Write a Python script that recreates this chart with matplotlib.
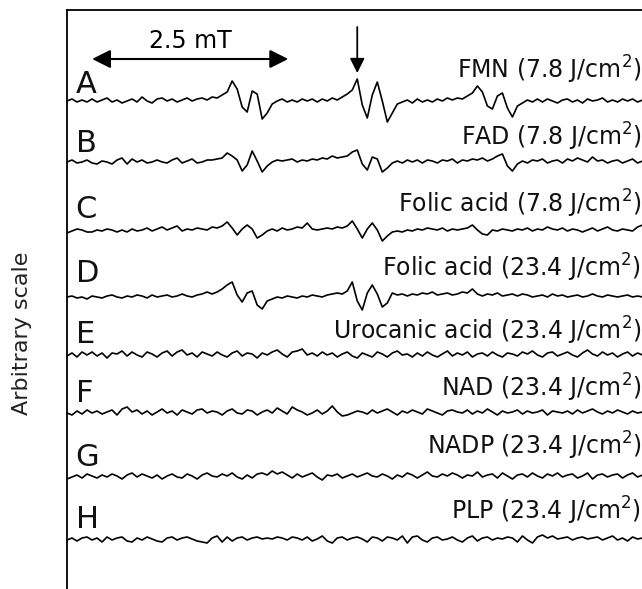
import numpy as np
import matplotlib.pyplot as plt

# EPR traces, relative amplitude (arbitrary units), sampled every 0.0638 mT
fmn_78 = [0, 2, -1, 1, -1, 2, -1, 1, 3, -1,
          1, -2, 0, 2, -1, 4, 0, -2, 2, 3,
          0, 2, -1, 1, 3, 0, 2, 3, 1, 4,
          3, 6, 9, 20, 12, -6, -11, 10, 7, -18,
          -12, -3, 0, 2, -1, 1, -1, 2, 0, 2,
          -1, 2, 0, 3, 1, 4, 7, 11, 22, -4,
          -17, 6, 19, 0, -21, -12, -3, -1, 1, -2,
          2, -1, 1, -1, 2, 0, 3, 1, 3, 2,
          5, 8, 15, 9, -5, -8, 5, 8, -7, -16,
          -5, -2, 1, -1, 2, -1, 2, 0, -2, 1,
          2, -1, 1, -2, 2, 0, 1, 3, -1, 1,
          -1, 2, 0, 2, -1, 1]
fad_78 = [0, 2, -1, 0, 2, -1, -2, 1, 0, -2,
          2, 4, -2, 3, 0, 2, -1, 0, 2, 0,
          -1, 2, 4, -1, 1, 3, -1, 0, 2, 2,
          3, 4, 9, 6, 2, -9, -3, 11, 1, -10,
          -4, 0, 2, 1, 2, 3, 0, 2, 1, 3,
          2, 4, 3, 6, 4, 5, 6, 10, 12, -2,
          -8, 5, 3, -10, -6, -1, 1, -1, 2, 0,
          2, -1, 2, 1, -1, 2, 1, 3, -1, 2,
          1, 3, 2, 4, 1, 3, 6, 8, -4, -9,
          -2, 1, -1, 2, 1, 3, -1, 1, 2, -1,
          3, 1, 4, 2, 0, 5, 1, 2, -1, 1,
          2, -1, 1, 3, -1, 1]
folic_78 = [-2, 0, 2, 1, -1, -1, 1, 0, 2, 1,
            -1, 1, -1, 2, 0, 1, 3, 0, 2, 4,
            1, 3, 5, 0, 2, 1, 3, 2, 1, 4,
            3, 5, 9, 3, -4, 2, 6, 2, -7, -4,
            0, 2, 0, 3, 1, 2, 4, 3, 8, 2,
            1, 2, 3, 2, 4, 3, 5, 10, 2, -7,
            2, 8, 1, -10, -5, -1, 0, -1, 1, 0,
            2, 1, 3, 2, 1, 3, 0, 2, 1, 2,
            3, 6, 1, -3, -4, 1, 0, 2, 1, 0,
            2, 1, 3, 0, 2, 1, 4, 2, 1, 3,
            0, 2, 1, -1, 1, 3, 0, 2, 4, 1,
            0, 2, 1, 0, 4, 6]
folic_234 = [0, 1, -1, 0, -2, 1, 0, -1, 1, 2,
             0, -1, 1, 0, 2, 1, -1, 2, 0, 1,
             2, 0, 1, 3, 1, 0, 2, 3, 5, 3,
             5, 8, 12, 15, 2, -5, 4, 6, -8, -12,
             -4, -2, 0, -1, 1, 0, -1, 1, 0, 2,
             1, 0, 2, 3, 4, 3, 6, 15, -4, -13,
             4, 12, 3, -10, -6, 4, 2, 3, 1, 3,
             2, 4, 3, 5, 2, 3, 4, 2, 3, 5,
             4, 8, 3, 1, 3, 2, 4, 1, 2, 3,
             1, 3, 2, 0, 1, 2, 0, 3, 1, 2,
             0, 1, 2, 0, 1, 3, 1, 0, 2, 1,
             0, 1, 2, 0, 1, 0]
urocanic_234 = [-1, 2, -2, 3, 0, 3, -1, 2, -3, 2,
                1, 4, -1, 3, 0, -2, 3, 1, -2, 2,
                4, -1, 3, 5, 0, 2, -2, 3, 1, -1,
                3, 0, -2, 2, 4, -1, 2, 1, -3, 2,
                0, 3, 5, 1, -2, 3, 4, 6, 0, 2,
                -1, 3, 0, 2, -2, 1, 3, -1, -3, 2,
                0, -2, 3, 1, -2, 2, 4, 0, 1, -2,
                2, -1, 3, 0, -2, 1, 4, -1, 2, 0,
                3, -2, 1, 2, -1, 3, 0, -2, 2, 1,
                -1, 3, 1, 4, 0, -2, 2, 3, -1, 1,
                3, 0, -2, 2, 5, 1, -1, 3, 0, 2,
                -2, 1, 3, -1, 2, 0]
nad_234 = [0, -2, 2, -1, 3, 0, 2, -1, 1, 3,
           -2, 4, 6, 1, 3, -1, 2, -2, 1, 4,
           0, 2, -2, 3, 1, -1, 3, 4, 0, 2,
           1, -2, 2, 4, 0, -1, 3, 2, -2, 1,
           3, 0, 5, 2, -1, 6, 3, 1, -2, 0,
           3, -1, 2, 7, 1, -3, -2, 0, 2, 1,
           -1, 3, 0, 2, 4, 1, -2, 2, 0, 3,
           1, -1, 4, 2, 0, -2, 2, 3, 1, 0,
           3, -1, 2, 0, 4, 1, -2, 2, 0, 1,
           3, -1, 2, 0, 1, 3, -2, 2, 1, 0,
           2, -1, 3, 0, 2, 4, 1, -1, 2, 0,
           3, 1, -1, 2, 0, 1]
nadp_234 = [-2, 0, 2, -1, 3, 1, -1, 2, 0, 3,
            1, -2, 2, 4, 0, 3, 1, -1, 2, -2,
            1, 3, 0, -1, 3, 1, -2, 2, 4, 1,
            0, 3, 1, 4, 0, -2, 2, -1, 3, 4,
            2, 6, 3, 5, 2, -1, 3, 0, 2, 4,
            0, -3, 2, 1, 3, -1, 1, 3, 0, 2,
            4, 1, 0, 3, 1, -2, 2, 0, 4, 2,
            -1, 2, 5, 1, 0, 3, 1, 4, 2, -1,
            2, 1, 5, 0, 2, 3, -1, 4, 1, -2,
            2, 3, 0, 4, 1, -1, 3, 1, 4, 0,
            2, 3, -1, 1, 4, -2, 2, 3, 0, 2,
            3, -1, 2, 4, 0, 2]
plp_234 = [0, 2, -1, 2, 3, 0, 2, -2, 3, 0,
           2, 3, -1, -2, 2, 0, 3, 1, -1, -2,
           2, 3, 0, 2, 3, 1, -1, -2, -3, 2,
           4, -2, 3, -1, 2, 3, 0, 2, 3, 1,
           2, 1, 3, 2, 0, 3, 2, 0, 3, -1,
           1, 4, -1, -3, 2, 3, 0, 2, 3, 1,
           -2, 3, 2, -1, 3, 2, 0, 4, -3, 3,
           4, 0, -2, 2, 3, 0, 1, 3, 0, -2,
           2, 4, -1, 2, 3, 0, 2, 1, 3, 2,
           -2, 4, 0, -3, 3, 5, 2, 4, 1, 2,
           3, 0, 2, 3, 1, 2, 3, 0, 2, 4,
           0, 2, -1, 3, 1, 2]

traces = [fmn_78, fad_78, folic_78, folic_234, urocanic_234, nad_234, nadp_234, plp_234]
letters = ["A", "B", "C", "D", "E", "F", "G", "H"]
names = ["FMN (7.8 J/cm$^2$)", "FAD (7.8 J/cm$^2$)", "Folic acid (7.8 J/cm$^2$)",
         "Folic acid (23.4 J/cm$^2$)", "Urocanic acid (23.4 J/cm$^2$)",
         "NAD (23.4 J/cm$^2$)", "NADP (23.4 J/cm$^2$)", "PLP (23.4 J/cm$^2$)"]

# vertical stacking
offsets = [-91, -152, -221, -287, -345, -403, -467, -530]
letter_y = [-83, -142, -208, -272, -333, -392, -456, -518]
name_y = [-69, -136, -203, -267, -330, -387, -445, -510]

field = np.arange(len(fmn_78)) * 0.0638  # mT

fig = plt.figure(figsize=(6.42, 5.89), dpi=100)
ax = fig.add_axes([67 / 642, 0, 1 - 67 / 642, 579 / 589])

for tr, off in zip(traces, offsets):
    ax.plot(field, np.array(tr) + off, color="black", lw=1.2)

for lab, ly, nm, ny in zip(letters, letter_y, names, name_y):
    ax.text(0.11, ly, lab, fontsize=22, ha="left", va="baseline", color="#111111")
    ax.text(7.32, ny, nm, fontsize=17, ha="right", va="baseline", color="#111111",
            math_fontfamily="dejavusans")

# 2.5 mT scale bar
ax.annotate("", xy=(0.32, -49), xytext=(2.82, -49),
            arrowprops=dict(arrowstyle="<|-|>", color="black", lw=1.5,
                            mutation_scale=28, shrinkA=0, shrinkB=0))
ax.text(1.57, -38, "2.5 mT", fontsize=17, ha="center", va="baseline")

# marker arrow
ax.annotate("", xy=(3.70, -63), xytext=(3.70, -17),
            arrowprops=dict(arrowstyle="-|>", color="black", lw=1.3,
                            mutation_scale=22, shrinkA=0, shrinkB=0))

ax.set_xlim(0, 7.33)
ax.set_ylim(-579, 0)
ax.set_xticks([])
ax.set_yticks([])
for s in ["right", "bottom"]:
    ax.spines[s].set_visible(False)
for s in ["left", "top"]:
    ax.spines[s].set_linewidth(1.3)

fig.text(22 / 642, 1 - 333 / 589, "Arbitrary scale", rotation=90, fontsize=16,
         ha="center", va="center", color="#222222")

fig.savefig("out.png", dpi=100)
